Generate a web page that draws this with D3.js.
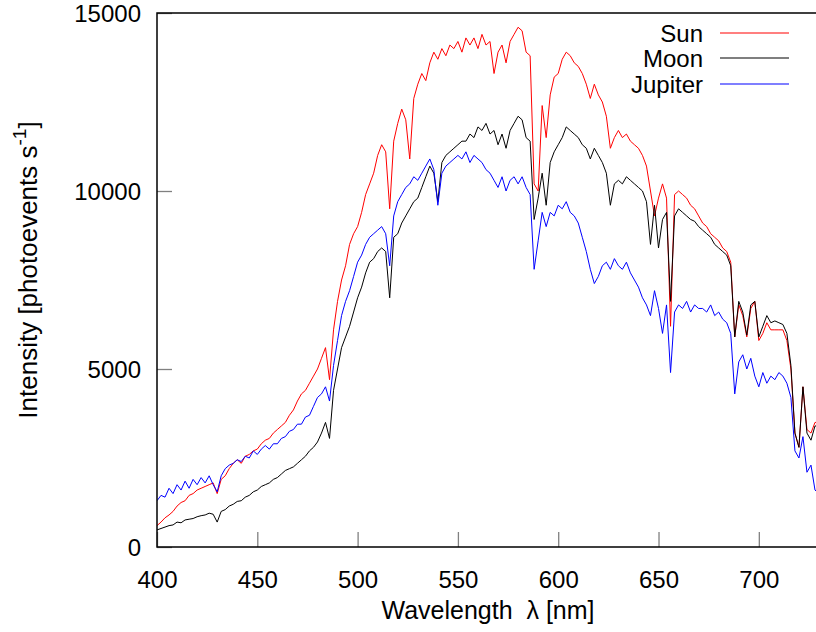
<!DOCTYPE html>
<html>
<head>
<meta charset="utf-8">
<script src="https://cdn.jsdelivr.net/npm/d3@7"></script>
<style>
  html, body { margin: 0; padding: 0; background: #fff; }
  svg text { font-family: "Liberation Sans", Arial, Helvetica, sans-serif; }
</style>
</head>
<body>
<svg id="chart" width="816" height="632"></svg>
<script>
const wavelength = [
  400,402,404,406,408,410,412,414,416,418,
  420,422,424,426,428,430,432,434,436,438,
  440,442,444,446,448,450,452,454,456,458,
  460,462,464,466,468,470,472,474,476,478,
  480,482,484,486,488,490,492,494,496,498,
  500,502,504,506,508,510,512,514,516,518,
  520,522,524,526,528,530,532,534,536,538,
  540,542,544,546,548,550,552,554,556,558,
  560,562,564,566,568,570,572,574,576,578,
  580,582,584,586,588,590,592,594,596,598,
  600,602,604,606,608,610,612,614,616,618,
  620,622,624,626,628,630,632,634,636,638,
  640,642,644,646,648,650,652,654,656,658,
  660,662,664,666,668,670,672,674,676,678,
  680,682,684,686,688,690,692,694,696,698,
  700,702,704,706,708,710,712,714,716,718,
  720,722,724,726,728,730
];
const sun = [
  600,700,820,900,1000,1150,1250,1300,1450,1500,
  1600,1650,1700,1750,1800,1500,1900,2000,2200,2350,
  2450,2350,2550,2600,2700,2750,2900,3000,3050,3200,
  3300,3400,3500,3700,3850,4100,4300,4400,4600,4800,
  5000,5300,5600,4700,6100,6900,7500,7900,8500,8800,
  9000,9400,9900,10200,10500,11000,11300,11100,9500,11400,
  11900,12300,12000,10900,12600,13000,13300,13100,13600,13900,
  13700,14000,13800,14100,14000,14200,13900,14300,14100,14300,
  14000,14400,14100,14200,13300,13900,14100,13600,14200,14400,
  14600,14500,13900,13800,10200,10000,12400,11500,12700,13200,
  13300,13700,13900,13800,13600,13500,13300,13000,12600,13000,
  12700,12500,12100,11200,11500,11700,11500,11600,11400,11300,
  11200,11000,10700,10000,9300,9800,10200,9800,6200,9900,
  10000,9900,9800,9600,9500,9300,9100,9000,8800,8700,
  8600,8400,8300,8000,5900,6800,6500,5900,6700,6900,
  5800,6000,6300,6100,6100,6100,6100,5800,5000,3200,
  2800,4500,3300,3200,3500,3500
];
const moon = [
  480,520,560,600,620,700,680,760,780,800,
  850,880,900,950,920,700,1000,1050,1150,1200,
  1280,1300,1400,1450,1550,1600,1700,1750,1800,1900,
  1950,2050,2150,2200,2250,2350,2450,2550,2700,2800,
  2950,3200,3500,3050,4400,5000,5600,5900,6200,6600,
  7000,7300,7700,8000,8100,8300,8400,8300,7000,8700,
  8800,9100,9300,9500,9700,9800,10100,10400,10700,10500,
  9700,10800,11000,11100,11200,11300,11400,11400,11600,11500,
  11800,11700,11900,11600,11700,11300,11600,11200,11700,11900,
  12100,12000,11500,11400,9200,9800,10500,9600,10800,11100,
  11300,11500,11800,11700,11600,11500,11300,11200,10900,11200,
  11000,10800,10500,9600,10200,10300,10200,10400,10300,10200,
  10100,10000,9700,8500,9600,8400,9200,9400,6900,9300,
  9500,9400,9300,9200,9150,9000,8900,8800,8700,8500,
  8400,8300,8200,7900,5900,6900,6600,5950,6800,6900,
  5900,6200,6500,6300,6350,6300,6250,6000,5100,3200,
  2800,4500,3200,3000,3400,3400
];
const jupiter = [
  1300,1450,1400,1650,1500,1750,1600,1850,1650,1900,
  1750,1950,1800,2000,1750,1550,2000,2200,2300,2350,
  2450,2400,2550,2500,2700,2600,2750,2850,2750,2900,
  2900,3050,3100,3250,3300,3450,3450,3650,3700,3950,
  4200,4300,4500,4100,5100,5800,6500,6900,7200,7600,
  8000,8200,8500,8700,8800,8900,9000,8800,7900,9300,
  9700,9900,10100,10200,10400,10300,10500,10700,10900,10600,
  9600,10500,10700,10800,10900,11000,10900,11100,10800,11000,
  10900,10800,10600,10500,10300,10100,10400,10000,10300,10400,
  10200,10400,10100,9900,7800,8600,9400,9000,9400,9300,
  9600,9500,9700,9400,9300,9100,8700,8300,7800,7400,
  7600,7900,8000,7800,8100,7900,7800,8000,7700,7500,
  7300,7000,6800,6500,7200,6700,6000,6800,4900,6600,
  6800,6700,6900,6600,6800,6700,6700,6600,6800,6500,
  6600,6400,6300,6000,4300,5200,5400,5000,5300,4800,
  4500,4900,4600,4800,4700,4900,4800,4600,4200,2700,
  2500,3100,2100,2300,1600,1500
];
const seriesNames = ["Sun", "Moon", "Jupiter"];
const seriesColors = ["#ff0000", "#000000", "#0000ff"];
const xTicks = [400, 450, 500, 550, 600, 650, 700];
const yTicks = [0, 5000, 10000, 15000];

const svg = d3.select("#chart");
const L = 157, R = 819, T = 13, B = 547;
const x = d3.scaleLinear().domain([400, 730]).range([L, R]);
const y = d3.scaleLinear().domain([0, 15000]).range([B, T]);

svg.append("rect").attr("width", 816).attr("height", 632).attr("fill", "#fff");

svg.append("defs").append("clipPath").attr("id", "clip")
  .append("rect").attr("x", L).attr("y", T).attr("width", R - L).attr("height", B - T);

// ticks (inward, grey)
const xAxis = d3.axisBottom(x).tickValues(xTicks).tickSize(-15).tickPadding(0).tickFormat(d3.format("d"));
const gx = svg.append("g").attr("transform", `translate(0,${B})`).call(xAxis);
gx.select(".domain").remove();
gx.selectAll(".tick line").attr("stroke", "#808080").attr("stroke-width", 1.3);
gx.selectAll(".tick text").attr("font-size", 24).attr("fill", "#000").attr("y", 41).attr("dy", 0);

const yAxis = d3.axisLeft(y).tickValues(yTicks).tickSize(-15).tickPadding(0).tickFormat(d3.format("d"));
const gy = svg.append("g").attr("transform", `translate(${L},0)`).call(yAxis);
gy.select(".domain").remove();
gy.selectAll(".tick line").attr("stroke", "#808080").attr("stroke-width", 1.3);
gy.selectAll(".tick text").attr("font-size", 24).attr("fill", "#000").attr("x", -16).attr("dy", "0.36em");

// series
const data = [sun, moon, jupiter];
const line = d3.line().x((d, i) => x(wavelength[i])).y(d => y(d));
const plot = svg.append("g").attr("clip-path", "url(#clip)");
data.forEach((vals, k) => {
  plot.append("path").datum(vals)
    .attr("d", line)
    .attr("fill", "none")
    .attr("stroke", seriesColors[k])
    .attr("stroke-width", 1)
    .attr("stroke-linejoin", "round");
});

// border
svg.append("path")
  .attr("d", `M${L},${T}H${R}V${B}H${L}Z`)
  .attr("fill", "none").attr("stroke", "#000").attr("stroke-width", 1.5);

// legend
const legY = [33, 58, 84];
seriesNames.forEach((name, k) => {
  svg.append("text").attr("x", 703).attr("y", legY[k]).attr("dy", "0.36em")
    .attr("text-anchor", "end").attr("font-size", 24).attr("fill", "#000").text(name);
  svg.append("line").attr("x1", 720).attr("x2", 789).attr("y1", legY[k]).attr("y2", legY[k])
    .attr("stroke", seriesColors[k]).attr("stroke-width", 1.2);
});

// axis labels
svg.append("text").attr("x", 488).attr("y", 619).attr("text-anchor", "middle")
  .attr("font-size", 25).attr("fill", "#000").attr("xml:space", "preserve")
  .text("Wavelength  λ [nm]");

const yl = svg.append("text").attr("transform", "translate(37,270) rotate(-90)")
  .attr("text-anchor", "middle").attr("font-size", 26).attr("fill", "#000");
yl.append("tspan").text("Intensity [photoevents s");
yl.append("tspan").attr("dy", -11).attr("font-size", 19).text("-1");
yl.append("tspan").attr("dy", 11).text("]");
</script>
</body>
</html>
